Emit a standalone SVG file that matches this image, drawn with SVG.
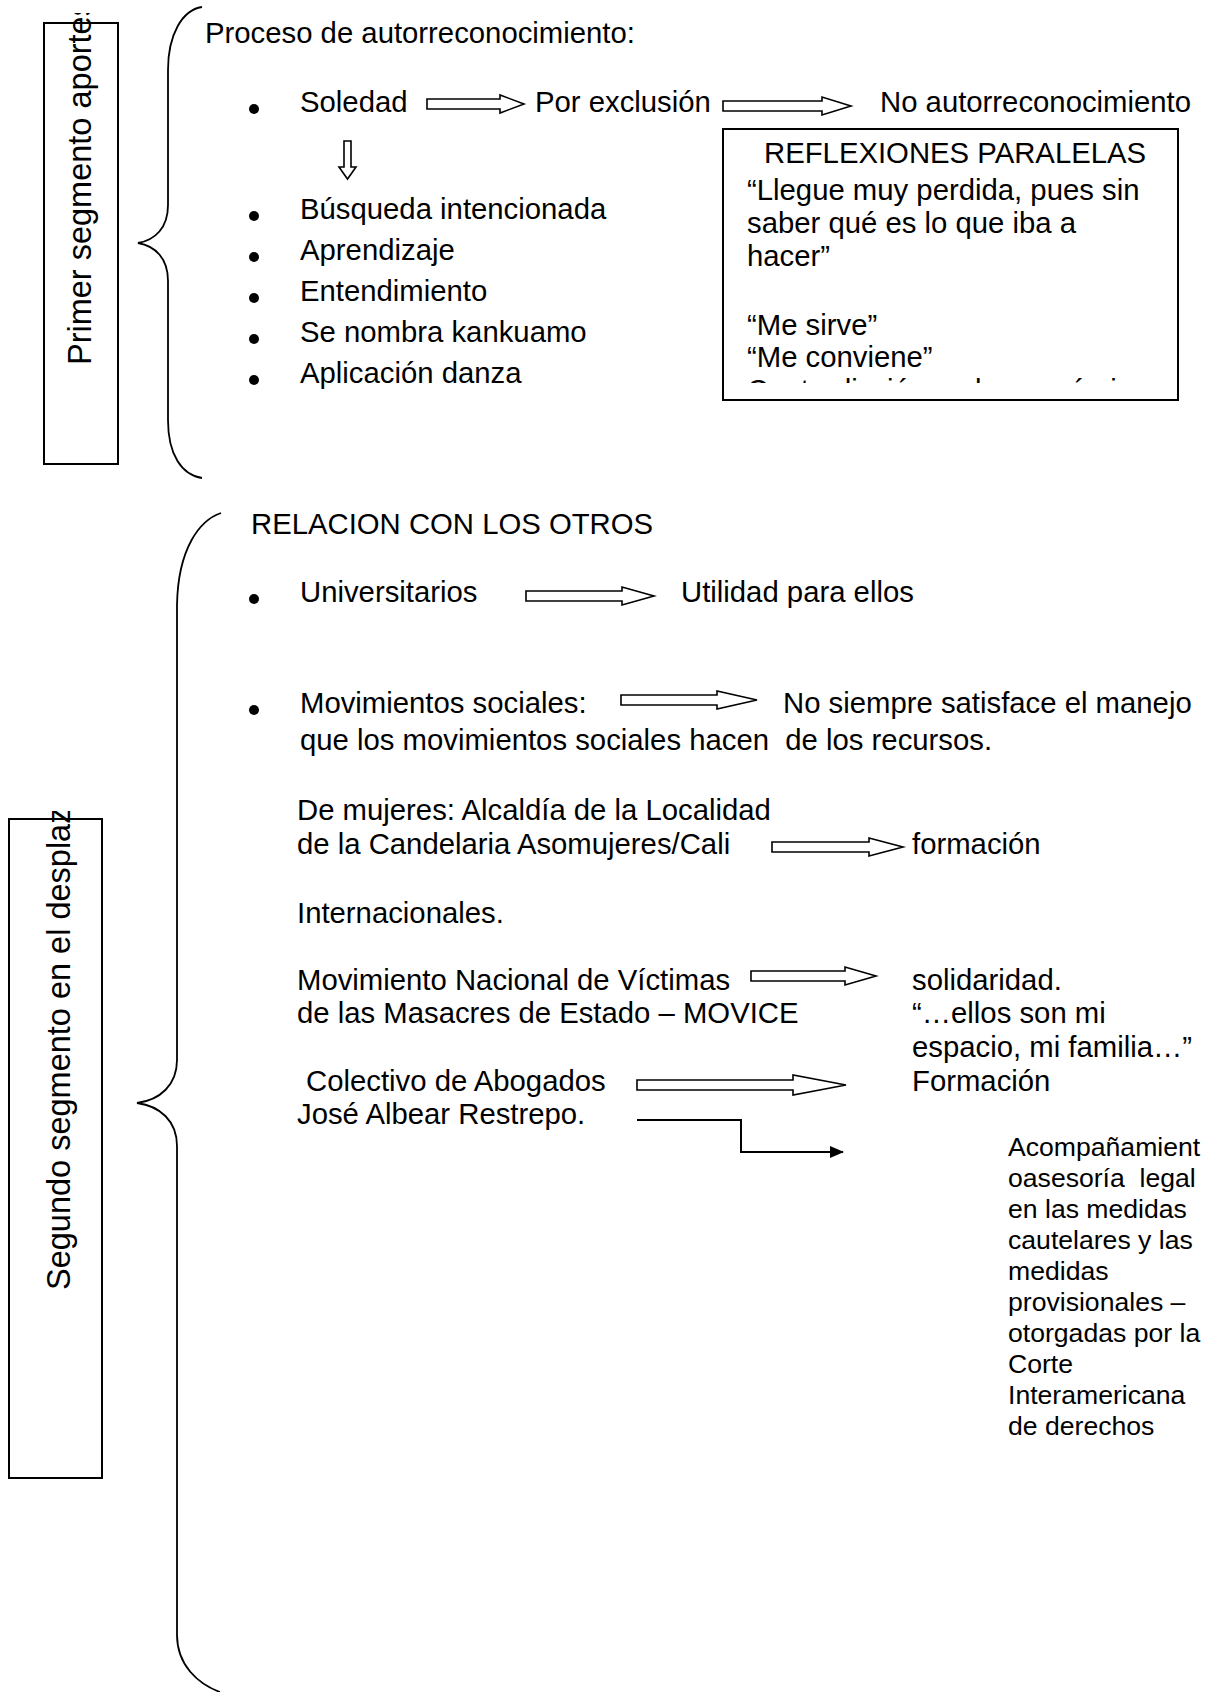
<svg xmlns="http://www.w3.org/2000/svg" width="1211" height="1692" viewBox="0 0 1211 1692">
<style>
text{font-family:"Liberation Sans",Arial,sans-serif;fill:#000}
.m{font-size:29.3px}
.s{font-size:26.6px}
.v{font-size:32.5px}
.box{fill:#fff;stroke:#000;stroke-width:2}
.br{fill:none;stroke:#000;stroke-width:1.8}
.arr{fill:#fff;stroke:#000;stroke-width:1.6;stroke-linejoin:miter}
.ln{fill:none;stroke:#000;stroke-width:2}
</style>
<defs>
<clipPath id="c1"><rect x="0" y="13" width="200" height="460"/></clipPath>
<clipPath id="c2"><rect x="0" y="811" width="200" height="700"/></clipPath>
<clipPath id="c3"><rect x="723" y="129" width="455" height="254"/></clipPath>
<marker id="ah" viewBox="0 0 14 12" refX="13" refY="6" markerWidth="14" markerHeight="12" markerUnits="userSpaceOnUse" orient="auto"><path d="M0,0 L14,6 L0,12 Z" fill="#000"/></marker>
</defs>
<rect width="1211" height="1692" fill="#fff"/>

<g id="seg1">
<rect class="box" x="44" y="23" width="74" height="441"/>
<g clip-path="url(#c1)"><text class="v" transform="translate(91,365) rotate(-90)">Primer segmento aportes</text></g>
</g>
<g id="brace1"><path class="br" d="M202,7 C182,10 168,35 168,70 L168,205 C168,228 155,240 138,243 C155,246 168,258 168,281 L168,420 C168,455 182,475 202,478"/></g>

<g id="proceso">
<text class="m" x="205" y="43">Proceso de autorreconocimiento:</text>
<circle cx="254" cy="109" r="5"/>
<text class="m" x="300" y="112">Soledad</text>
<text class="m" x="535" y="112">Por exclusión</text>
<text class="m" x="880" y="112">No autorreconocimiento</text>
<circle cx="254" cy="216" r="5"/>
<text class="m" x="300" y="219">Búsqueda intencionada</text>
<circle cx="254" cy="257" r="5"/>
<text class="m" x="300" y="260">Aprendizaje</text>
<circle cx="254" cy="298" r="5"/>
<text class="m" x="300" y="301">Entendimiento</text>
<circle cx="254" cy="339" r="5"/>
<text class="m" x="300" y="342">Se nombra kankuamo</text>
<circle cx="254" cy="380" r="5"/>
<text class="m" x="300" y="383">Aplicación danza</text>
</g>

<g id="reflexiones">
<rect class="box" x="723" y="129" width="455" height="271"/>
<text class="m" x="764" y="163">REFLEXIONES PARALELAS</text>
<text class="m" x="747" y="200">“Llegue muy perdida, pues sin</text>
<text class="m" x="747" y="233">saber qué es lo que iba a</text>
<text class="m" x="747" y="266">hacer”</text>
<text class="m" x="747" y="335">“Me sirve”</text>
<text class="m" x="747" y="367">“Me conviene”</text>
<g clip-path="url(#c3)"><text class="m" x="747" y="400">Contradicción en lo económico</text></g>
</g>

<g id="seg2">
<rect class="box" x="9" y="819" width="93" height="659"/>
<g clip-path="url(#c2)"><text class="v" transform="translate(70,1290) rotate(-90)">Segundo segmento en el desplazamiento</text></g>
</g>
<g id="brace2"><path class="br" d="M221,513 C200,520 178,548 177,605 L177,1060 C177,1085 160,1100 137,1103 C160,1106 177,1121 177,1146 L177,1635 C177,1665 198,1684 220,1692"/></g>

<g id="relacion">
<text class="m" x="251" y="534">RELACION CON LOS OTROS</text>
<circle cx="254" cy="599" r="5"/>
<text class="m" x="300" y="602">Universitarios</text>
<text class="m" x="681" y="602">Utilidad para ellos</text>
<circle cx="254" cy="710" r="5"/>
<text class="m" x="300" y="713">Movimientos sociales:</text>
<text class="m" x="783" y="713">No siempre satisface el manejo</text>
<text class="m" x="300" y="750" xml:space="preserve">que los movimientos sociales hacen  de los recursos.</text>
<text class="m" x="297" y="820">De mujeres: Alcaldía de la Localidad</text>
<text class="m" x="297" y="854">de la Candelaria Asomujeres/Cali</text>
<text class="m" x="912" y="854">formación</text>
<text class="m" x="297" y="923">Internacionales.</text>
<text class="m" x="297" y="990">Movimiento Nacional de Víctimas</text>
<text class="m" x="297" y="1023">de las Masacres de Estado – MOVICE</text>
<text class="m" x="912" y="990">solidaridad.</text>
<text class="m" x="912" y="1023">“…ellos son mi</text>
<text class="m" x="912" y="1057">espacio, mi familia…”</text>
<text class="m" x="306" y="1091">Colectivo de Abogados</text>
<text class="m" x="912" y="1091">Formación</text>
<text class="m" x="297" y="1124">José Albear Restrepo.</text>
</g>

<g id="acompanamiento">
<text class="s" x="1008" y="1156">Acompañamient</text>
<text class="s" x="1008" y="1187" xml:space="preserve">oasesoría  legal</text>
<text class="s" x="1008" y="1218">en las medidas</text>
<text class="s" x="1008" y="1249">cautelares y las</text>
<text class="s" x="1008" y="1280">medidas</text>
<text class="s" x="1008" y="1311">provisionales –</text>
<text class="s" x="1008" y="1342">otorgadas por la</text>
<text class="s" x="1008" y="1373">Corte</text>
<text class="s" x="1008" y="1404">Interamericana</text>
<text class="s" x="1008" y="1435">de derechos</text>
</g>

<g id="connectors">
<path class="arr" d="M427,99 L500,99 L500,95 L524,104 L500,113 L500,109 L427,109 Z"/>
<path class="arr" d="M723,101 L822,101 L822,97 L851,106 L822,115 L822,111 L723,111 Z"/>
<path class="arr" d="M344,141 L351,141 L351,167 L356,167 L347.5,179 L339,167 L344,167 Z"/>
<path class="arr" d="M526,591 L622,591 L622,587 L654,596 L622,605 L622,601 L526,601 Z"/>
<path class="arr" d="M621,695 L717,695 L717,691 L757,700 L717,709 L717,705 L621,705 Z"/>
<path class="arr" d="M772,842 L869,842 L869,838 L903,847 L869,856 L869,852 L772,852 Z"/>
<path class="arr" d="M751,971 L845,971 L845,967 L876,976 L845,985 L845,981 L751,981 Z"/>
<path class="arr" d="M637,1080 L793,1080 L793,1075 L846,1085 L793,1095 L793,1090 L637,1090 Z"/>
<polyline class="ln" points="637,1120 741,1120 741,1152 843,1152" marker-end="url(#ah)"/>
</g>
</svg>
